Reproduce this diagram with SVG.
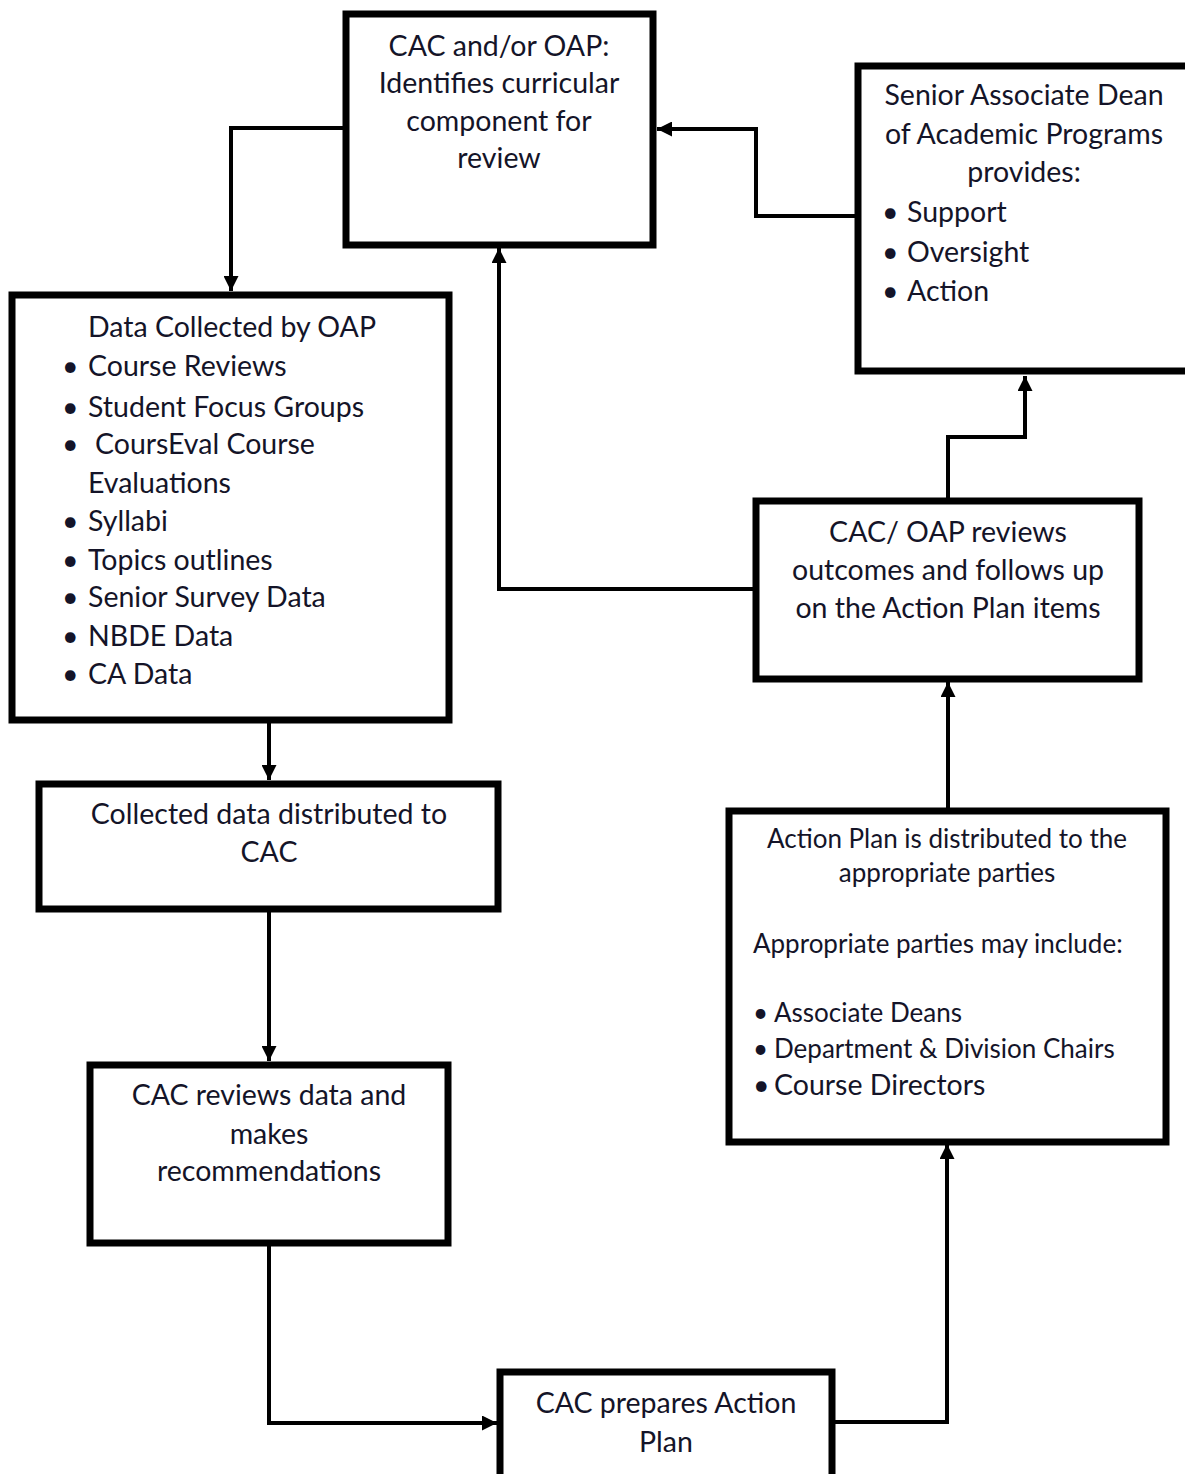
<svg xmlns="http://www.w3.org/2000/svg" width="1185" height="1474" viewBox="0 0 1185 1474">
<defs>
<marker id="arr" viewBox="0 0 10 10" refX="10" refY="5" markerWidth="16" markerHeight="15" markerUnits="userSpaceOnUse" orient="auto">
<path d="M0,0 L10,5 L0,10 z" fill="#000"/>
</marker>
<style>
.box{fill:#fff;stroke:#000;stroke-width:7}
.t{font-family:Lato,"Open Sans",sans-serif;font-size:28.5px;fill:#141428}
.s{font-size:26px}
.c{text-anchor:middle}
.con{fill:none;stroke:#000;stroke-width:4;marker-end:url(#arr)}
</style>
</defs>
<rect width="1185" height="1474" fill="#fff"/>
<g id="connectors">
<path class="con" d="M346,128 H231 V291"/>
<path class="con" d="M858,216 H756 V129 H657"/>
<path class="con" d="M756,589 H499 V248"/>
<path class="con" d="M948,500 V437 H1025 V376"/>
<path class="con" d="M269,722 V780"/>
<path class="con" d="M269,910 V1061"/>
<path class="con" d="M269,1244 V1423 H497"/>
<path class="con" d="M832,1422 H947 V1144"/>
<path class="con" d="M948,810 V682"/>
</g>
<g id="n1">
<rect class="box" x="346" y="14" width="307" height="231"/>
<text class="t c" x="499" y="56">CAC and/or OAP:</text>
<text class="t c" x="499" y="93">Identifies curricular</text>
<text class="t c" x="499" y="131">component for</text>
<text class="t c" x="499" y="168">review</text>
</g>
<g id="n2">
<rect class="box" x="858" y="66" width="340" height="305"/>
<text class="t c" x="1024" y="105">Senior Associate Dean</text>
<text class="t c" x="1024" y="144">of Academic Programs</text>
<text class="t c" x="1024" y="182">provides:</text>
<text class="t" x="882" y="222">•</text><text class="t" x="907" y="222">Support</text>
<text class="t" x="882" y="262">•</text><text class="t" x="907" y="262">Oversight</text>
<text class="t" x="882" y="301">•</text><text class="t" x="907" y="301">Action</text>
</g>
<g id="n3">
<rect class="box" x="12" y="295" width="437" height="425"/>
<text class="t" x="88" y="337">Data Collected by OAP</text>
<text class="t" x="62" y="376">•</text><text class="t" x="88" y="376">Course Reviews</text>
<text class="t" x="62" y="417">•</text><text class="t" x="88" y="417">Student Focus Groups</text>
<text class="t" x="62" y="454">•</text><text class="t" x="95" y="454">CoursEval Course</text>
<text class="t" x="88" y="493">Evaluations</text>
<text class="t" x="62" y="531">•</text><text class="t" x="88" y="531">Syllabi</text>
<text class="t" x="62" y="570">•</text><text class="t" x="88" y="570">Topics outlines</text>
<text class="t" x="62" y="607">•</text><text class="t" x="88" y="607">Senior Survey Data</text>
<text class="t" x="62" y="646">•</text><text class="t" x="88" y="646">NBDE Data</text>
<text class="t" x="62" y="684">•</text><text class="t" x="88" y="684">CA Data</text>
</g>
<g id="n4">
<rect class="box" x="756" y="501" width="383" height="178"/>
<text class="t c" x="948" y="542">CAC/ OAP reviews</text>
<text class="t c" x="948" y="580">outcomes and follows up</text>
<text class="t c" x="948" y="618">on the Action Plan items</text>
</g>
<g id="n5">
<rect class="box" x="39" y="784" width="459" height="125"/>
<text class="t c" x="269" y="824">Collected data distributed to</text>
<text class="t c" x="269" y="862">CAC</text>
</g>
<g id="n6">
<rect class="box" x="729" y="811" width="437" height="331"/>
<text class="t s c" x="947" y="848">Action Plan is distributed to the</text>
<text class="t s c" x="947" y="882">appropriate parties</text>
<text class="t s" x="753" y="953">Appropriate parties may include:</text>
<text class="t s" x="753" y="1022">•</text><text class="t s" x="774" y="1022">Associate Deans</text>
<text class="t s" x="753" y="1058">•</text><text class="t s" x="774" y="1058">Department &amp; Division Chairs</text>
<text class="t" x="753" y="1095">•</text><text class="t" x="774" y="1095">Course Directors</text>
</g>
<g id="n7">
<rect class="box" x="90" y="1065" width="358" height="178"/>
<text class="t c" x="269" y="1105">CAC reviews data and</text>
<text class="t c" x="269" y="1144">makes</text>
<text class="t c" x="269" y="1181">recommendations</text>
</g>
<g id="n8">
<rect class="box" x="500" y="1372" width="332" height="110"/>
<text class="t c" x="666" y="1413">CAC prepares Action</text>
<text class="t c" x="666" y="1452">Plan</text>
</g>
</svg>
